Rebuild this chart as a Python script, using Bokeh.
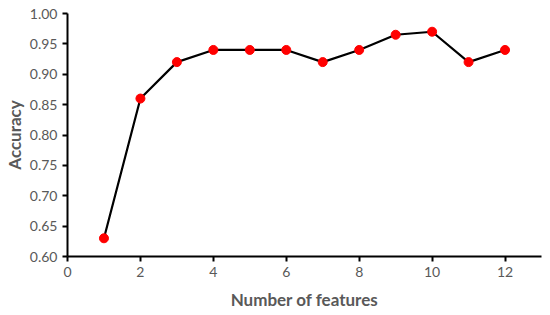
from bokeh.plotting import figure
from bokeh.models import Range1d, FixedTicker, NumeralTickFormatter
from bokeh.embed import file_html
from bokeh.resources import INLINE

features = [1, 2, 3, 4, 5, 6, 7, 8, 9, 10, 11, 12]
accuracy = [0.63, 0.86, 0.92, 0.94, 0.94, 0.94, 0.92, 0.94, 0.965, 0.97, 0.92, 0.94]
x_ticks = [0, 2, 4, 6, 8, 10, 12]
y_ticks = [0.60, 0.65, 0.70, 0.75, 0.80, 0.85, 0.90, 0.95, 1.00]

p = figure(width=546, height=312, output_backend="svg", toolbar_location=None,
           x_range=Range1d(0, 13), y_range=Range1d(0.6, 1.0),
           min_border_left=67, min_border_right=5, min_border_top=13, min_border_bottom=55)
p.outline_line_color = None
p.grid.visible = False

p.line(features, accuracy, line_color="black", line_width=2.2)
p.scatter(features, accuracy, size=9, fill_color="#ff0000", line_color="#ff0000")

font = "Lato"
grey = "#595959"
for ax in (p.xaxis[0], p.yaxis[0]):
    ax.axis_line_width = 2
    ax.axis_line_color = "black"
    ax.major_tick_line_width = 2
    ax.major_tick_line_color = "black"
    ax.major_tick_out = 5
    ax.major_tick_in = 0
    ax.minor_tick_line_color = None
    ax.major_label_text_font = font
    ax.major_label_text_font_size = "14px"
    ax.major_label_text_color = grey
    ax.axis_label_text_font = font
    ax.axis_label_text_font_size = "17px"
    ax.axis_label_text_font_style = "bold"
    ax.axis_label_text_color = grey

p.xaxis.ticker = FixedTicker(ticks=x_ticks)
p.yaxis.ticker = FixedTicker(ticks=y_ticks)
p.yaxis.formatter = NumeralTickFormatter(format="0.00")
p.xaxis.axis_label = "Number of features"
p.yaxis.axis_label = "Accuracy"
p.xaxis.major_label_standoff = 5
p.yaxis.major_label_standoff = 5
p.xaxis.axis_label_standoff = 9
p.yaxis.axis_label_standoff = 2

open("out.html", "w").write(file_html(p, INLINE))
